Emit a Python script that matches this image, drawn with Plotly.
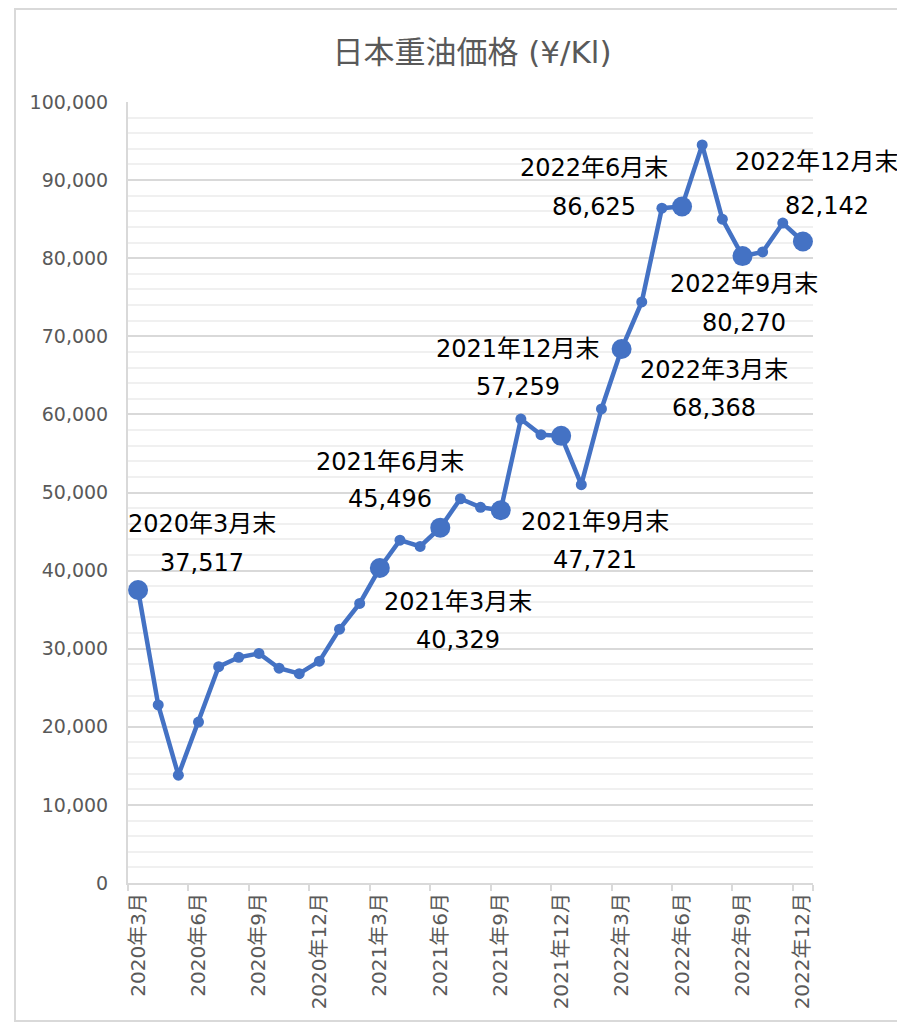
import plotly.graph_objects as go

months = [
    "2020年3月", "2020年4月", "2020年5月", "2020年6月", "2020年7月", "2020年8月",
    "2020年9月", "2020年10月", "2020年11月", "2020年12月",
    "2021年1月", "2021年2月", "2021年3月", "2021年4月", "2021年5月", "2021年6月",
    "2021年7月", "2021年8月", "2021年9月", "2021年10月", "2021年11月", "2021年12月",
    "2022年1月", "2022年2月", "2022年3月", "2022年4月", "2022年5月", "2022年6月",
    "2022年7月", "2022年8月", "2022年9月", "2022年10月", "2022年11月", "2022年12月",
]
prices = [
    37517, 22800, 13800, 20600, 27700, 28900, 29400, 27500, 26800, 28400,
    32500, 35800, 40329, 43900, 43100, 45496, 49200, 48100, 47721, 59400,
    57400, 57259, 51000, 60700, 68368, 74400, 86400, 86625, 94500, 85000,
    80270, 80800, 84500, 82142,
]
quarter_ends = ["2020年3月", "2021年3月", "2021年6月", "2021年9月", "2021年12月",
                "2022年3月", "2022年6月", "2022年9月", "2022年12月"]
tick_months = ["2020年3月", "2020年6月", "2020年9月", "2020年12月",
               "2021年3月", "2021年6月", "2021年9月", "2021年12月",
               "2022年3月", "2022年6月", "2022年9月", "2022年12月"]

# label offsets in pixels (dx, dy of line 1, dy of line 2), screen-down positive
label_offsets = {
    "2020年3月": (64, -66, -27),
    "2021年3月": (78, 34, 72),
    "2021年6月": (-50, -66, -29),
    "2021年9月": (94, 12, 50),
    "2021年12月": (-43, -87, -49),
    "2022年3月": (92, 21, 59),
    "2022年6月": (-88, -38, 1),
    "2022年9月": (2, 28, 67),
    "2022年12月": (14, -79, -35),
}

BLUE = "#4472C4"
sizes = [20 if m in quarter_ends else 11 for m in months]

fig = go.Figure()
fig.add_trace(go.Scatter(
    x=months, y=prices, mode="lines+markers",
    line=dict(color=BLUE, width=4.5),
    marker=dict(color=BLUE, size=sizes, opacity=1, line=dict(width=0)),
    cliponaxis=False, showlegend=False,
))

FAM = "DejaVu Sans, Noto Sans CJK JP"
LABEL_FONT = dict(family=FAM, size=24, color="#000000")
annotations = []
for m in quarter_ends:
    v = prices[months.index(m)]
    dx, dy1, dy2 = label_offsets[m]
    annotations.append(dict(x=m, y=v, xref="x", yref="y", text=f"{m}末",
                            showarrow=False, xshift=dx, yshift=-dy1, font=LABEL_FONT))
    annotations.append(dict(x=m, y=v, xref="x", yref="y", text=f"{v:,}",
                            showarrow=False, xshift=dx + 10 if m == "2022年12月" else dx,
                            yshift=-dy2, font=LABEL_FONT))

# page has an 8px body margin; figure sized to fit the window
OFF = 8
W, H = 905 - OFF, 1023 - OFF
L, T = 128 - OFF, 102 - OFF
pw, ph = 685, 781
R, B = W - L - pw, H - T - ph

fig.update_layout(
    width=W, height=H,
    margin=dict(l=L, r=R, t=T, b=B, pad=0),
    paper_bgcolor="white", plot_bgcolor="white",
    font=dict(family=FAM, color="#595959"),
    title=dict(text="日本重油価格 (¥/Kl)", x=(472 - OFF) / W, xref="container", xanchor="center",
               y=1 - (52 - OFF) / H, yref="container", yanchor="middle",
               font=dict(size=31, color="#595959")),
    annotations=annotations,
    shapes=[dict(type="rect", xref="paper", yref="paper",
                 x0=(15 - 128) / pw, x1=(915 - 128) / pw,
                 y0=(883 - 1021) / ph, y1=(883 - 9) / ph,
                 line=dict(color="#d9d9d9", width=2), layer="below")],
)
fig.update_xaxes(
    type="category", categoryorder="array", categoryarray=months,
    range=[-0.5, len(months) - 0.5],
    tickmode="array", tickvals=tick_months, ticktext=tick_months,
    tickangle=-90, tickson="boundaries", ticks="outside", ticklen=6,
    tickcolor="#d9d9d9", tickwidth=2,
    showline=True, linecolor="#d9d9d9", linewidth=2,
    showgrid=False, zeroline=False,
    tickfont=dict(size=20, color="#595959"),
)
fig.update_yaxes(
    range=[0, 100000], dtick=10000, tickformat=",",
    showgrid=True, gridcolor="#d9d9d9", gridwidth=2,
    minor=dict(dtick=2000, showgrid=True, gridcolor="#f0f0f0", gridwidth=2),
    showline=True, linecolor="#d9d9d9", linewidth=2,
    zeroline=False, ticks="", ticklabelstandoff=14,
    tickfont=dict(size=19, color="#595959"),
)

fig.write_html("out.html")
